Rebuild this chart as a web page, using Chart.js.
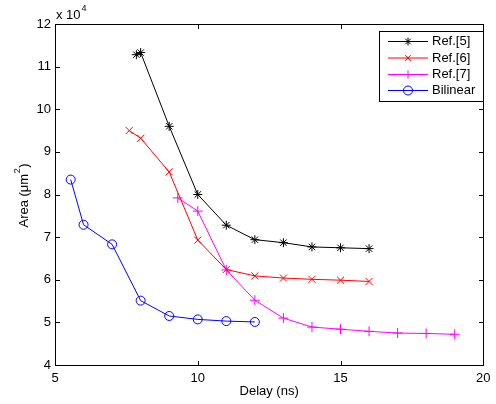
<!DOCTYPE html>
<html><head><meta charset="utf-8">
<script src="https://cdn.jsdelivr.net/npm/chart.js@4/dist/chart.umd.min.js"></script>
<style>html,body{margin:0;padding:0;background:#fff}</style>
</head><body>
<canvas id="c" width="496" height="404" style="display:block;width:496px;height:404px"></canvas>
<script>
// Data (Area in units of 10^4 um^2, Delay in ns)
const seriesNames = ['Ref.[5]', 'Ref.[6]', 'Ref.[7]', 'Bilinear'];
const ref5Delay = [7.85, 8.0, 9, 10, 11, 12, 13, 14, 15, 16];
const ref5Area  = [11.28, 11.33, 9.6, 8.0, 7.28, 6.94, 6.87, 6.77, 6.75, 6.73];
const ref6Delay = [7.6, 8.0, 9, 10, 11, 12, 13, 14, 15, 16];
const ref6Area  = [9.5, 9.32, 8.53, 6.93, 6.24, 6.09, 6.04, 6.01, 5.99, 5.96];
const ref7Delay = [9.3, 10, 11, 12, 13, 14, 15, 16, 17, 18, 19];
const ref7Area  = [7.92, 7.61, 6.23, 5.52, 5.10, 4.89, 4.84, 4.79, 4.75, 4.74, 4.72];
const bilDelay  = [5.55, 6, 7, 8, 9, 10, 11, 12];
const bilArea   = [8.35, 7.29, 6.83, 5.51, 5.15, 5.07, 5.03, 5.01];
const xTicks = [5, 10, 15, 20];
const yTicks = [4, 5, 6, 7, 8, 9, 10, 11, 12];

const FONT = '"Liberation Sans", Arial, Helvetica, sans-serif';
const FS = 13;
const pts = (xs, ys) => xs.map((x, i) => ({x: x, y: ys[i]}));

const styles = [
  {color: '#000000', pointStyle: 'star', radius: 4.5},
  {color: '#ff0000', pointStyle: 'crossRot', radius: 5},
  {color: '#ff00ff', pointStyle: 'cross', radius: 5},
  {color: '#0000ff', pointStyle: 'circle', radius: 4.5}
];
const dataSets = [pts(ref5Delay, ref5Area), pts(ref6Delay, ref6Area), pts(ref7Delay, ref7Area), pts(bilDelay, bilArea)];

const datasets = dataSets.map((d, i) => ({
  label: seriesNames[i],
  data: d,
  showLine: true,
  borderColor: styles[i].color,
  backgroundColor: 'rgba(0,0,0,0)',
  borderWidth: 1,
  pointStyle: styles[i].pointStyle,
  pointRadius: styles[i].radius,
  pointBorderWidth: 1,
  pointBorderColor: styles[i].color,
  pointBackgroundColor: 'rgba(0,0,0,0)',
  pointHoverRadius: styles[i].radius,
  tension: 0
}));

const matlabPlugin = {
  id: 'matlab',
  afterDraw(chart) {
    const ctx = chart.ctx;
    const a = chart.chartArea;
    const xs = chart.scales.x, ys = chart.scales.y;
    const L = Math.round(a.left) + 0.5, R = Math.round(a.right) + 0.5;
    const T = Math.round(a.top) + 0.5, B = Math.round(a.bottom) + 0.5;
    ctx.save();
    ctx.strokeStyle = '#000';
    ctx.lineWidth = 1;
    ctx.strokeRect(L, T, R - L, B - T);
    const tl = 4.5;
    ctx.beginPath();
    xTicks.forEach(v => {
      const px = Math.round(xs.getPixelForValue(v)) + 0.5;
      ctx.moveTo(px, B); ctx.lineTo(px, B - tl);
      ctx.moveTo(px, T); ctx.lineTo(px, T + tl);
    });
    yTicks.forEach(v => {
      const py = Math.round(ys.getPixelForValue(v)) + 0.5;
      ctx.moveTo(L, py); ctx.lineTo(L + tl, py);
      ctx.moveTo(R, py); ctx.lineTo(R - tl, py);
    });
    ctx.stroke();

    // exponent label
    ctx.fillStyle = '#000';
    ctx.textBaseline = 'alphabetic';
    ctx.textAlign = 'left';
    ctx.font = FS + 'px ' + FONT;
    ctx.fillText('x 10', 56, 18.5);
    const w10 = ctx.measureText('x 10').width;
    ctx.font = '9px ' + FONT;
    ctx.fillText('4', 56 + w10 + 1, 10.5);

    // x title
    ctx.font = FS + 'px ' + FONT;
    ctx.textAlign = 'center';
    ctx.textBaseline = 'middle';
    ctx.fillText('Delay (ns)', (a.left + a.right) / 2, 391);

    // y title
    ctx.save();
    ctx.translate(23, (a.top + a.bottom) / 2 + 1);
    ctx.rotate(-Math.PI / 2);
    const p1 = 'Area (\u03bcm', p3 = ')';
    ctx.font = FS + 'px ' + FONT;
    const w1 = ctx.measureText(p1).width, w3 = ctx.measureText(p3).width;
    ctx.font = '9px ' + FONT;
    const w2 = ctx.measureText('2').width;
    const total = w1 + w2 + w3 + 1;
    let x0 = -total / 2;
    ctx.textAlign = 'left';
    ctx.textBaseline = 'alphabetic';
    ctx.font = FS + 'px ' + FONT;
    ctx.fillText(p1, x0, 4.5);
    ctx.font = '9px ' + FONT;
    ctx.fillText('2', x0 + w1 + 0.5, -3);
    ctx.font = FS + 'px ' + FONT;
    ctx.fillText(p3, x0 + w1 + w2 + 1, 4.5);
    ctx.restore();

    // legend
    const lx = 379.5, ly = 31.5, lw = 104, lh = 70;
    ctx.fillStyle = '#fff';
    ctx.fillRect(lx, ly, lw, lh);
    ctx.strokeStyle = '#000';
    ctx.lineWidth = 1;
    ctx.strokeRect(lx, ly, lw, lh);
    const rowY = [41.5, 58, 74.5, 90.5];
    chart.data.datasets.forEach((ds, i) => {
      const y = rowY[i];
      ctx.strokeStyle = styles[i].color;
      ctx.lineWidth = 1;
      ctx.beginPath();
      ctx.moveTo(388, y); ctx.lineTo(428, y);
      ctx.stroke();
      ctx.fillStyle = 'rgba(0,0,0,0)';
      Chart.helpers.drawPoint(ctx, {pointStyle: styles[i].pointStyle, rotation: 0, radius: styles[i].pointStyle === 'circle' ? 4.5 : 4, borderWidth: 1}, 408, y);
      ctx.fillStyle = '#000';
      ctx.font = FS + 'px ' + FONT;
      ctx.textAlign = 'left';
      ctx.textBaseline = 'middle';
      ctx.fillText(ds.label, 432, y);
    });
    ctx.restore();
  }
};

new Chart(document.getElementById('c'), {
  type: 'scatter',
  data: {datasets: datasets},
  options: {
    responsive: false,
    animation: false,
    devicePixelRatio: 1,
    layout: {padding: {top: 24, right: 3, left: 0, bottom: 0}},
    plugins: {legend: {display: false}, tooltip: {enabled: false}},
    scales: {
      x: {
        type: 'linear', min: 5, max: 20,
        afterBuildTicks: s => { s.ticks = xTicks.map(v => ({value: v})); },
        afterFit: s => { s.height = 39; },
        grid: {display: false, drawTicks: false},
        border: {display: false},
        ticks: {padding: 5.5, color: '#000', font: {family: FONT, size: FS}, maxRotation: 0}
      },
      y: {
        type: 'linear', min: 4, max: 12,
        afterBuildTicks: s => { s.ticks = yTicks.map(v => ({value: v})); },
        afterFit: s => { s.width = 55; },
        grid: {display: false, drawTicks: false},
        border: {display: false},
        ticks: {padding: 4, color: '#000', font: {family: FONT, size: FS}}
      }
    }
  },
  plugins: [matlabPlugin]
});
</script>
</body></html>
